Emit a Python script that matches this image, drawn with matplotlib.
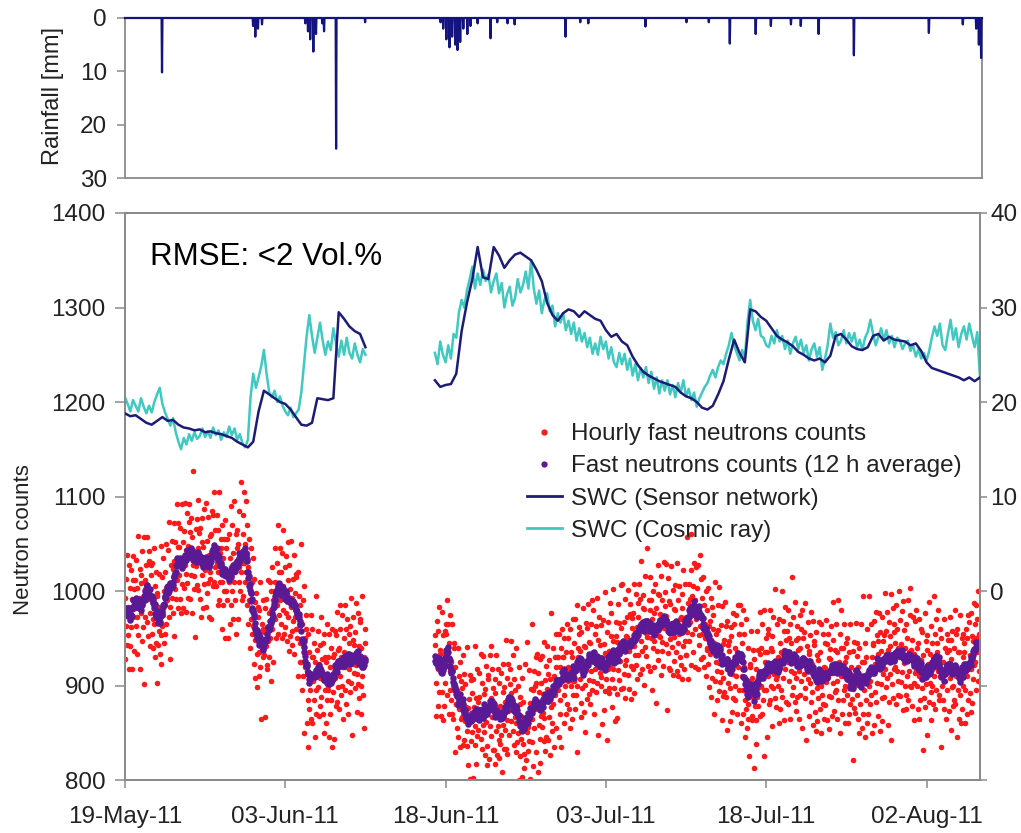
import numpy as np
import pandas as pd
import matplotlib
matplotlib.use("Agg")
import matplotlib.pyplot as plt
import matplotlib.dates as mdates
from matplotlib.lines import Line2D

plt.rcParams['font.family'] = ['Liberation Sans', 'DejaVu Sans']

# ---------------------------------------------------------------- data
START = np.datetime64('2011-05-19T00:00')
END = np.datetime64('2011-08-07T00:00')
tick_dates = ['2011-05-19', '2011-06-03', '2011-06-18',
              '2011-07-03', '2011-07-18', '2011-08-02']

# rainfall events: days after 19 May 2011, depth in mm
rain_day = [3.46, 11.96, 12.15, 12.43, 12.8, 16.82, 17.1, 17.29, 17.57, 17.85,
            18.41, 18.6, 19.72, 22.43, 29.44, 29.72, 30.0, 30.28, 30.56, 30.84,
            31.03, 31.31, 31.59, 31.96, 32.24, 32.9, 34.11, 34.77, 35.7, 36.36,
            41.12, 42.52, 43.27, 48.6, 52.43, 54.49, 56.45, 58.88, 60.28, 62.15,
            63.08, 64.77, 68.04, 75.05, 78.22, 79.44, 79.72, 79.9]
rain_mm = [10.2, 1.5, 3.5, 2.0, 1.2, 1.0, 2.5, 4.0, 6.3, 3.0,
           1.0, 2.5, 24.5, 0.8, 0.8, 2.0, 4.0, 5.5, 3.5, 5.0,
           6.0, 4.5, 2.0, 3.0, 1.5, 1.0, 3.8, 0.8, 1.0, 1.2,
           3.5, 0.8, 1.0, 1.6, 0.8, 0.8, 4.8, 3.0, 1.5, 1.2,
           1.5, 3.0, 7.0, 2.8, 1.2, 2.0, 5.0, 7.5]

# hourly fast neutron counts: 12-h level plus an hourly deviation code
seg1_start_h = 0
seg2_start_h = 696
counts_level_1 = [978, 982, 988, 992, 1002, 985, 968, 995, 1008, 1022,
                  1032, 1038, 1042, 1036, 1032, 1028, 1045, 1035, 1020, 1015,
                  1025, 1035, 1045, 1000, 958, 945, 952, 970, 1000, 1005,
                  992, 988, 975, 940, 905, 910, 918, 910, 905, 918,
                  925, 930, 928, 932, 925]
counts_level_2 = [928, 918, 935, 905, 885, 872, 866, 872, 868, 876,
                  882, 872, 868, 878, 882, 870, 858, 866, 880, 878,
                  886, 892, 900, 905, 910, 915, 920, 922, 926, 930,
                  928, 924, 927, 932, 936, 942, 946, 952, 962, 966,
                  960, 962, 966, 964, 966, 960, 962, 972, 985, 978,
                  960, 948, 940, 934, 928, 922, 930, 930, 890, 898,
                  908, 915, 920, 922, 925, 928, 930, 928, 925, 922,
                  918, 912, 910, 914, 918, 920, 915, 910, 906, 905,
                  910, 915, 918, 922, 928, 932, 935, 934, 930, 928,
                  925, 912, 918, 925, 920, 915, 918, 920, 915, 920,
                  932, 945]
counts_dev_1 = (
    "DqHxMtBvKozFsIwCnGyLrEAG"
    "JvpDxOtzBmHExFrKuAiNwCEH"
    "BtLyqGzIovDFuJxBrMwEpHsC"
    "GnDvKyAtQxrzEwIqByFsLuCz"
    "yHtNvAkEzJxDrCmKwGuByOsF"
    "IxDsHpAvMzqEtFyLoBwJuCrH"
    "KqzEvHnDxRsAwBjGyIuCtMzF"
    "HsAoJxEqDvLyzNrBuFwKpCxG"
    "vDlIyHsAMtEwCuJzqGxOrBvE"
    "FyoKtDwHmLAFxIvBnJzEqCuP"
    "JvpDxOtzBmHEGnDvKyAtQxrz"
    "DqHxMtBvKozFtFyLoBwJuCrH"
    "BtLyqGzIovDFyHtNvAkEzJxD"
    "wBjGyIuCtMzFsIwCnGyLrEAG"
    "CuJzqGxOrBvEIxDsHpAvMzqE"
    "uJxBrMwEpHsCzNrBuFwKpCxG"
    "xIvBnJzEqCuPxFrKuAiNwCEH"
    "rCmKwGuByOsFKqzEvHnDxRsA"
    "EwIqByFsLuCzHsAoJxEqDvLy"
    "FyoKtDwHmLAFvDlIyHsAMtEw"
    "DqHxMtBvKozFBtLyqGzIovDF"
    "yHtNvAkEzJxDtFyLoBwJuCrH"
    "JvpDxOtzBmHE"
)
counts_dev_2 = (
    "FDvoIzGqyLtBEqzMvApHsDxI"
    "GAErLyGnCwIswEtMAsHyIlDv"
    "zCuLsFyBqIwEFzMtCuIyGjBw"
    "PuCqEzJnBvIxEHmBztOxDpvJ"
    "DxJzEkAvNtHyyLvDqExJoAsH"
    "FzoKvBtMxHqDCsHpEwMrBxJu"
    "HrCuJwBoLyFtEvBrOxGqzJuC"
    "HECwNiAuKrFxFsOyBuGwKmCr"
    "GxCpKwFuBrNzzrxQtAyKvDnG"
    "AsRxDnHvEzqKFALmHwDtKoyF"
    "uJxBrMwEpHsCKqzEvHnDxRsA"
    "sIwCnGyLrEAGFyoKtDwHmLAF"
    "EwIqByFsLuCzHsAoJxEqDvLy"
    "xFrKuAiNwCEHIxDsHpAvMzqE"
    "vDlIyHsAMtEwDqHxMtBvKozF"
    "yHtNvAkEzJxDxIvBnJzEqCuP"
    "wBjGyIuCtMzFJvpDxOtzBmHE"
    "rCmKwGuByOsFzNrBuFwKpCxG"
    "BtLyqGzIovDFtFyLoBwJuCrH"
    "CuJzqGxOrBvEGnDvKyAtQxrz"
    "GAErLyGnCwIsDxJzEkAvNtHy"
    "GxCpKwFuBrNzHECwNiAuKrFx"
    "EqzMvApHsDxIEvBrOxGqzJuC"
    "CsHpEwMrBxJuAsRxDnHvEzqK"
    "PuCqEzJnBvIxFzoKvBtMxHqD"
    "zCuLsFyBqIwEyLvDqExJoAsH"
    "EHmBztOxDpvJFsOyBuGwKmCr"
    "wEtMAsHyIlDvFDvoIzGqyLtB"
    "HrCuJwBoLyFtFALmHwDtKoyF"
    "zrxQtAyKvDnGFzMtCuIyGjBw"
    "rCmKwGuByOsFxFrKuAiNwCEH"
    "vDlIyHsAMtEwGnDvKyAtQxrz"
    "xIvBnJzEqCuPsIwCnGyLrEAG"
    "KqzEvHnDxRsAuJxBrMwEpHsC"
    "FyoKtDwHmLAFyHtNvAkEzJxD"
    "DqHxMtBvKozFHsAoJxEqDvLy"
    "tFyLoBwJuCrHBtLyqGzIovDF"
    "CuJzqGxOrBvEJvpDxOtzBmHE"
    "zNrBuFwKpCxGEwIqByFsLuCz"
    "wBjGyIuCtMzFIxDsHpAvMzqE"
    "AsRxDnHvEzqKzrxQtAyKvDnG"
    "FzoKvBtMxHqDFALmHwDtKoyF"
    "FsOyBuGwKmCrHECwNiAuKrFx"
    "GxCpKwFuBrNzHrCuJwBoLyFt"
    "CsHpEwMrBxJuPuCqEzJnBvIx"
    "yLvDqExJoAsHDxJzEkAvNtHy"
    "EHmBztOxDpvJEvBrOxGqzJuC"
    "FzMtCuIyGjBwzCuLsFyBqIwE"
    "GAErLyGnCwIswEtMAsHyIlDv"
    "EqzMvApHsDxIFDvoIzGqyLtB"
    "HsAoJxEqDvLyEwIqByFsLuCz"
)
DEV_ALPHABET = "abcdefghijklmnopqrstuvwxyzABCDEFGHIJKLMNOPQRSTUVWXYZ"
DEV_ZERO = 26
DEV_STEP = 5

# soil water content, Vol.% (sensor network every 12 h, cosmic ray every 6 h)
swc_sensor_1 = [18.8, 18.5, 18.6, 18.2, 17.8, 17.6, 18.0, 18.4, 18.0, 18.1,
                17.6, 17.3, 17.2, 17.0, 17.1, 16.8, 16.9, 16.7, 16.6, 16.4,
                16.2, 15.8, 15.5, 15.2, 15.8, 19.0, 21.2, 20.8, 20.4, 20.0,
                19.8, 19.2, 18.4, 17.6, 17.5, 17.8, 20.4, 20.3, 20.2, 20.4,
                29.5, 28.8, 28.0, 27.5, 27.2, 25.8]
swc_sensor_2 = [22.3, 21.6, 21.8, 21.9, 23.0, 27.5, 30.5, 33.0, 36.4, 33.2,
                33.0, 36.4, 35.5, 34.2, 35.0, 35.6, 35.8, 35.4, 35.0, 34.0,
                32.8, 30.5, 29.2, 28.6, 29.4, 29.8, 29.6, 29.0, 29.6, 29.2,
                28.8, 28.6, 27.6, 26.9, 27.2, 26.4, 26.0, 24.8, 23.9, 23.2,
                22.8, 22.5, 22.2, 22.0, 21.8, 21.6, 21.0, 20.6, 20.4, 20.0,
                19.4, 19.2, 19.6, 20.8, 22.2, 24.5, 26.6, 25.2, 24.2, 29.8,
                29.6, 29.0, 28.6, 27.8, 27.0, 26.6, 26.3, 25.9, 25.3, 25.0,
                24.6, 24.4, 24.6, 24.2, 24.9, 27.0, 27.2, 26.6, 25.9, 25.6,
                25.5, 25.8, 27.0, 27.2, 26.5, 26.9, 26.6, 26.5, 26.4, 26.0,
                26.2, 25.4, 24.2, 23.6, 23.4, 23.2, 23.0, 22.8, 22.6, 22.3,
                22.6, 22.2, 22.6]
swc_cosmic_1 = [20.5, 19.8, 19.0, 20.2, 19.6, 19.0, 20.4, 19.5, 18.8, 19.6,
                18.9, 20.0, 20.8, 21.5, 19.8, 18.9, 18.2, 17.5, 18.3, 16.8,
                15.8, 15.0, 16.2, 15.5, 16.6, 15.9, 16.8, 16.1, 16.4, 17.2,
                16.3, 16.9, 16.2, 17.3, 16.5, 17.0, 16.0, 16.8, 16.3, 17.4,
                16.5, 17.2, 16.0, 16.6, 15.6, 15.2, 16.0, 20.5, 23.0, 21.5,
                22.6, 23.8, 25.5, 23.0, 21.0, 20.5, 21.2, 20.0, 20.6, 19.6,
                19.0, 18.6, 19.4, 18.4, 18.8, 19.2, 21.0, 24.0, 27.0, 29.2,
                27.0, 25.2, 26.8, 28.4, 26.5, 25.0, 26.4, 25.5, 27.8, 26.2,
                24.8, 26.5, 25.0, 26.8, 25.2, 24.6, 26.2, 25.0, 24.2, 25.6,
                25.0]
swc_cosmic_2 = [25.2, 24.0, 26.4, 25.0, 24.2, 26.0, 24.6, 27.2, 26.8, 29.5,
                30.8, 30.0, 31.8, 33.0, 34.3, 32.0, 33.6, 32.4, 34.0, 32.8,
                33.5, 31.6, 32.8, 33.6, 31.5, 32.6, 30.0, 31.4, 32.2, 30.2,
                31.0, 33.0, 31.6, 32.4, 33.8, 32.0, 35.0, 32.0, 30.4, 31.8,
                29.4, 30.8, 31.5, 29.6, 30.2, 28.0, 29.4, 28.4, 29.4, 27.6,
                28.6, 27.2, 28.4, 26.5, 27.8, 26.4, 27.3, 25.8, 26.8, 25.1,
                26.2, 25.0, 26.9, 25.6, 26.4, 24.6, 25.8, 24.2, 23.7, 25.2,
                24.0, 25.1, 23.4, 24.6, 22.8, 24.0, 22.3, 23.6, 22.6, 23.7,
                22.0, 23.2, 21.4, 22.6, 20.9, 22.3, 21.2, 22.3, 20.8, 21.8,
                20.5, 22.0, 21.0, 22.3, 20.6, 21.4, 20.2, 21.0, 19.5, 20.4,
                21.0, 21.6, 22.0, 22.8, 23.4, 22.6, 23.7, 24.4, 24.0, 25.1,
                26.0, 27.3, 26.0, 25.2, 24.4, 25.5, 24.6, 28.5, 30.8, 28.6,
                27.6, 28.8, 27.0, 26.8, 26.0, 25.8, 27.0, 26.2, 27.6, 26.4,
                27.0, 25.6, 26.5, 25.1, 26.2, 26.9, 25.6, 26.6, 25.2, 26.0,
                24.4, 25.6, 26.2, 24.8, 25.8, 23.4, 24.6, 26.0, 28.3, 26.8,
                27.4, 26.0, 26.5, 27.6, 26.2, 27.3, 26.4, 27.3, 25.8, 26.6,
                25.5, 26.8, 27.4, 28.7, 27.2, 26.0, 26.9, 27.8, 26.6, 27.6,
                26.2, 27.0, 25.8, 26.8, 26.5, 25.6, 26.2, 26.5, 25.4, 26.0,
                24.8, 25.6, 24.6, 25.2, 24.4, 25.4, 26.8, 28.0, 27.0, 28.3,
                26.0, 25.5, 27.2, 28.7, 26.6, 27.8, 25.8, 27.2, 28.0, 26.6,
                28.3, 27.0, 25.8, 27.4, 22.6]

legend_labels = ['Hourly fast neutrons counts',
                 'Fast neutrons counts (12 h average)',
                 'SWC (Sensor network)',
                 'SWC (Cosmic ray)']

# ---------------------------------------------------------------- helpers
def at_hours(h):
    minutes = np.round(np.asarray(h, dtype=float) * 60).astype('int64')
    return START + minutes.astype('timedelta64[m]')


def hourly_counts(levels, dev):
    code = np.array([DEV_ALPHABET.index(c) for c in dev])
    base = np.repeat(np.asarray(levels, dtype=float), 12)[:len(code)]
    return base + DEV_STEP * (code - DEV_ZERO)


counts_1 = hourly_counts(counts_level_1, counts_dev_1)
counts_2 = hourly_counts(counts_level_2, counts_dev_2)
avg_1 = pd.Series(counts_1).rolling(12, center=True, min_periods=6).mean().to_numpy()
avg_2 = pd.Series(counts_2).rolling(12, center=True, min_periods=6).mean().to_numpy()
t_counts_1 = at_hours(seg1_start_h + np.arange(len(counts_1)))
t_counts_2 = at_hours(seg2_start_h + np.arange(len(counts_2)))

t_sensor_1 = at_hours(seg1_start_h + 12 * np.arange(len(swc_sensor_1)))
t_sensor_2 = at_hours(seg2_start_h + 12 * np.arange(len(swc_sensor_2)))
t_cosmic_1 = at_hours(seg1_start_h + 6 * np.arange(len(swc_cosmic_1)))
t_cosmic_2 = at_hours(seg2_start_h + 6 * np.arange(len(swc_cosmic_2)))

n_hours = 80 * 24 + 1
rain_hourly = np.zeros(n_hours)
for d, mm in zip(rain_day, rain_mm):
    rain_hourly[int(round(d * 24))] = mm
t_rain = at_hours(np.arange(n_hours))

# ---------------------------------------------------------------- style
RED = '#ff1a1a'
PURPLE = '#5a1a96'
NAVY = '#1c1c78'
CYAN = '#3fc9c1'
RAIN = '#14147e'
SPINE = '#8a8a8a'
TXT = '#222222'
TICK_FS = 17.5

fig = plt.figure(figsize=(10.21, 8.33), dpi=100)
ax_r = fig.add_axes([0.1224, 0.7863, 0.8394, 0.1921])
ax = fig.add_axes([0.1224, 0.0636, 0.8374, 0.6807])
ax2 = ax.twinx()

# rainfall panel
ax_r.plot(t_rain, rain_hourly, color=RAIN, lw=1.6, clip_on=False, zorder=3)
ax_r.set_xlim(START, END)
ax_r.set_ylim(30, 0)
ax_r.set_yticks([0, 10, 20, 30])
ax_r.set_xticks([])
ax_r.tick_params(axis='y', direction='out', length=6, width=1.1, color=SPINE,
                 labelsize=TICK_FS, labelcolor=TXT, pad=7)
for s in ax_r.spines.values():
    s.set_color(SPINE)
    s.set_linewidth(1.3)

# neutron counts
ax.scatter(t_counts_1, counts_1, s=16, color=RED, lw=0, zorder=2)
ax.scatter(t_counts_2, counts_2, s=16, color=RED, lw=0, zorder=2)
ax.scatter(t_counts_1, avg_1, s=22, color=PURPLE, lw=0, zorder=3)
ax.scatter(t_counts_2, avg_2, s=22, color=PURPLE, lw=0, zorder=3)

ax.set_xlim(START, END)
ax.set_ylim(800, 1400)
ax.set_yticks(np.arange(800, 1401, 100))
ax.set_xticks(pd.to_datetime(tick_dates))
ax.xaxis.set_major_formatter(mdates.DateFormatter('%d-%b-%y'))
ax.tick_params(axis='y', direction='out', length=7, width=1.1, color=SPINE,
               labelsize=TICK_FS, labelcolor=TXT, pad=7)
ax.tick_params(axis='x', direction='out', length=6, width=1.1, color=SPINE,
               labelsize=TICK_FS, labelcolor=TXT, pad=13)

# soil water content on the secondary axis
ax2.plot(t_cosmic_1, swc_cosmic_1, color=CYAN, lw=1.8, zorder=2)
ax2.plot(t_cosmic_2, swc_cosmic_2, color=CYAN, lw=1.8, zorder=2)
ax2.plot(t_sensor_1, swc_sensor_1, color=NAVY, lw=1.8, zorder=3)
ax2.plot(t_sensor_2, swc_sensor_2, color=NAVY, lw=1.8, zorder=3)
ax2.set_ylim(-20, 40)
right_ticks = [-20, -10, 0, 10, 20, 30, 40]
ax2.set_yticks(right_ticks)
ax2.set_yticklabels([str(v) if v >= 0 else '' for v in right_ticks])
ax2.tick_params(axis='y', direction='out', length=5, width=1.1, color=SPINE,
                labelsize=TICK_FS, labelcolor=TXT, pad=2.5)

for a in (ax, ax2):
    for s in a.spines.values():
        s.set_color(SPINE)
        s.set_linewidth(1.3)

# labels and annotation
fig.text(0.052, 0.885, 'Rainfall [mm]', rotation=90, ha='center', va='center',
         fontsize=17, color=TXT)
fig.text(0.023, 0.352, 'Neutron counts', rotation=90, ha='center', va='center',
         fontsize=16, color=TXT)
fig.text(0.147, 0.682, 'RMSE: <2 Vol.%', fontsize=22.5, va='baseline',
         color='black')

handles = [
    Line2D([], [], marker='o', ls='none', color=RED, markersize=3.5),
    Line2D([], [], marker='o', ls='none', color=PURPLE, markersize=3.5),
    Line2D([], [], color=NAVY, lw=2),
    Line2D([], [], color=CYAN, lw=2),
]
ax2.legend(handles, legend_labels, loc='upper left',
           bbox_to_anchor=(0.516, 0.492), bbox_transform=fig.transFigure,
           frameon=False, fontsize=17.5, handlelength=1.45, handletextpad=0.35,
           labelspacing=0.42, borderpad=0, borderaxespad=0,
           labelcolor=TXT)

fig.savefig('out.png', dpi=100)
